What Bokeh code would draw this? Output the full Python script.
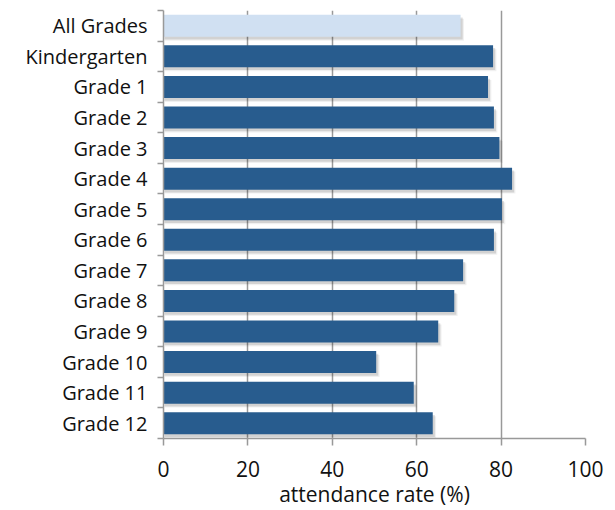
from bokeh.plotting import figure
from bokeh.models import Range1d, FixedTicker, ColumnDataSource
from bokeh.embed import file_html
from bokeh.resources import INLINE

categories = ["All Grades", "Kindergarten", "Grade 1", "Grade 2", "Grade 3", "Grade 4",
              "Grade 5", "Grade 6", "Grade 7", "Grade 8", "Grade 9", "Grade 10",
              "Grade 11", "Grade 12"]
rates = [70.4, 78.1, 76.9, 78.3, 79.6, 82.6, 80.2, 78.3, 71.0, 68.9, 65.1, 50.4, 59.3, 63.8]
x_ticks = [0, 20, 40, 60, 80, 100]

n = len(categories)
pos = [n - 1 - i for i in range(n)]
colors = ["#D0E0F2"] + ["#285C8E"] * (n - 1)

FONT = "Open Sans"

p = figure(width=607, height=510, output_backend="svg", toolbar_location=None,
           x_range=Range1d(0, 100), y_range=Range1d(-0.5, n - 0.5),
           min_border_left=163, min_border_right=22, min_border_top=10,
           min_border_bottom=60)
p.outline_line_color = None
p.background_fill_color = "white"

src = ColumnDataSource(dict(y=pos, v=rates, c=colors,
                            vs=[r + 0.5 for r in rates], ys=[y - 0.09 for y in pos],
                            vs2=[r + 0.8 for r in rates], ys2=[y - 0.13 for y in pos]))

# soft shadows
p.hbar(y="ys2", left=0.3, right="vs2", height=0.72, source=src,
       fill_color="#000000", fill_alpha=0.06, line_color=None)
p.hbar(y="ys", left=0.2, right="vs", height=0.72, source=src,
       fill_color="#000000", fill_alpha=0.12, line_color=None)
p.hbar(y="y", left=0, right="v", height=0.72, source=src,
       fill_color="c", line_color=None)

# x axis
p.xaxis.ticker = FixedTicker(ticks=x_ticks)
p.xaxis.axis_label = "attendance rate (%)"
p.xaxis.axis_label_text_font = FONT
p.xaxis.axis_label_text_font_size = "21px"
p.xaxis.axis_label_text_font_style = "normal"
p.xaxis.axis_label_text_color = "#111111"
p.xaxis.axis_label_standoff = 0
p.xaxis.major_label_text_font = FONT
p.xaxis.major_label_text_font_size = "21px"
p.xaxis.major_label_text_color = "#111111"
p.xaxis.major_label_standoff = 15
p.xaxis.axis_line_color = "#999999"
p.xaxis.axis_line_width = 1.5
p.xaxis.major_tick_line_color = "#999999"
p.xaxis.major_tick_line_width = 1.5
p.xaxis.major_tick_out = 7
p.xaxis.major_tick_in = 0
p.xaxis.minor_tick_line_color = None

# y axis
p.yaxis.ticker = FixedTicker(ticks=pos, minor_ticks=[k - 0.5 for k in range(n + 1)])
p.yaxis.major_label_overrides = {y: c for y, c in zip(pos, categories)}
p.yaxis.major_label_text_font = FONT
p.yaxis.major_label_text_font_size = "20px"
p.yaxis.major_label_text_color = "#111111"
p.yaxis.major_label_standoff = 10
p.yaxis.axis_line_color = "#999999"
p.yaxis.axis_line_width = 1.5
p.yaxis.major_tick_line_color = None
p.yaxis.minor_tick_line_color = "#999999"
p.yaxis.minor_tick_line_width = 1.5
p.yaxis.minor_tick_out = 6
p.yaxis.minor_tick_in = 0

# grid
p.xgrid.ticker = FixedTicker(ticks=x_ticks[1:])
p.xgrid.grid_line_color = "#999999"
p.xgrid.grid_line_width = 1.5
p.ygrid.grid_line_color = None

open("out.html", "w").write(file_html(p, INLINE))
